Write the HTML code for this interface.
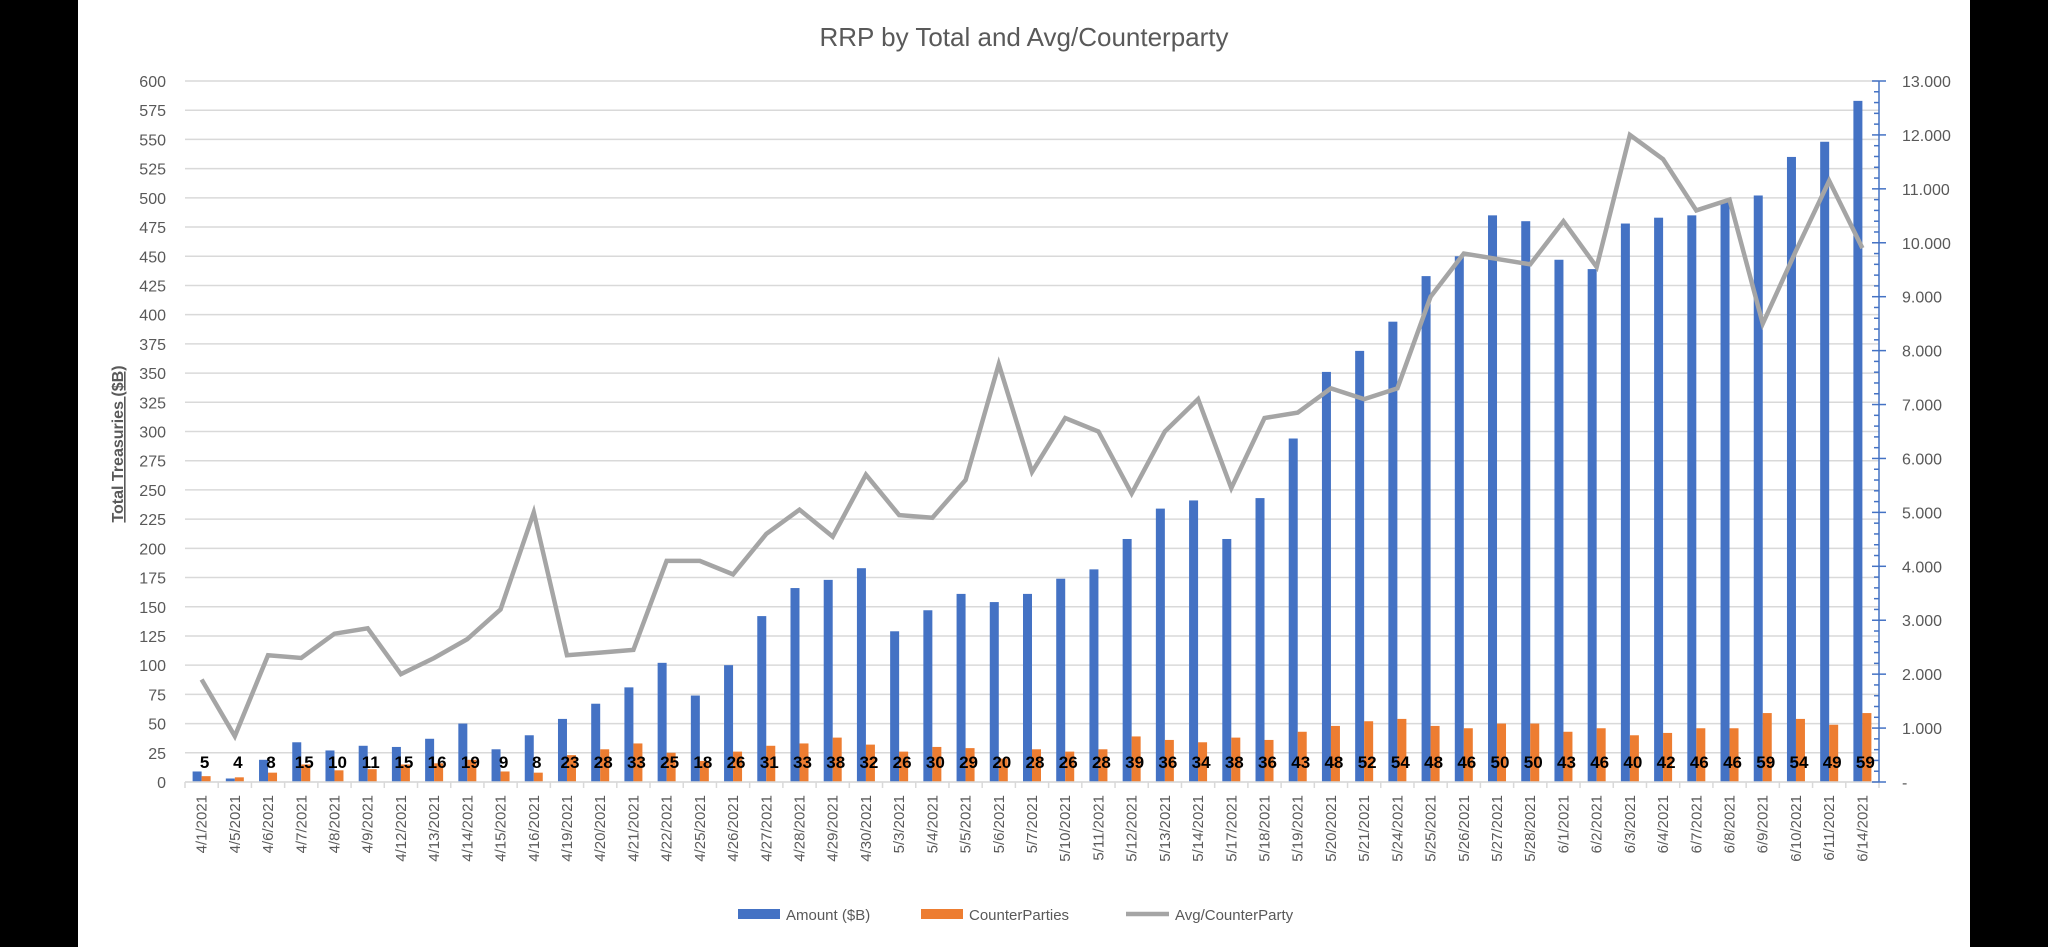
<!DOCTYPE html>
<html><head><meta charset="utf-8">
<style>
html,body{margin:0;padding:0;background:#000;}
#wrap{position:relative;width:2048px;height:947px;background:#000;overflow:hidden;}
svg{position:absolute;left:0;top:0;}
text{font-family:"Liberation Sans",sans-serif;}
</style></head>
<body>
<div id="wrap">
<svg id="chart" width="2048" height="947"></svg>
</div>
<script>
const categories = ["4/1/2021","4/5/2021","4/6/2021","4/7/2021","4/8/2021","4/9/2021","4/12/2021","4/13/2021","4/14/2021","4/15/2021","4/16/2021","4/19/2021","4/20/2021","4/21/2021","4/22/2021","4/25/2021","4/26/2021","4/27/2021","4/28/2021","4/29/2021","4/30/2021","5/3/2021","5/4/2021","5/5/2021","5/6/2021","5/7/2021","5/10/2021","5/11/2021","5/12/2021","5/13/2021","5/14/2021","5/17/2021","5/18/2021","5/19/2021","5/20/2021","5/21/2021","5/24/2021","5/25/2021","5/26/2021","5/27/2021","5/28/2021","6/1/2021","6/2/2021","6/3/2021","6/4/2021","6/7/2021","6/8/2021","6/9/2021","6/10/2021","6/11/2021","6/14/2021"];
const amounts = [9,3,19,34,27,31,30,37,50,28,40,54,67,81,102,74,100,142,166,173,183,129,147,161,154,161,174,182,208,234,241,208,243,294,351,369,394,433,450,485,480,447,439,478,483,485,497,502,535,548,583];
const counterparties = [5,4,8,15,10,11,15,16,19,9,8,23,28,33,25,18,26,31,33,38,32,26,30,29,20,28,26,28,39,36,34,38,36,43,48,52,54,48,46,50,50,43,46,40,42,46,46,59,54,49,59];
const avgPerCounterparty = [1.9,0.85,2.35,2.3,2.75,2.85,2.0,2.3,2.65,3.2,5.0,2.35,2.4,2.45,4.1,4.1,3.85,4.6,5.05,4.55,5.7,4.95,4.9,5.6,7.75,5.75,6.75,6.5,5.35,6.5,7.1,5.45,6.75,6.85,7.3,7.1,7.3,9.0,9.8,9.7,9.6,10.4,9.55,12.0,11.55,10.6,10.8,8.5,9.85,11.15,9.9];
const leftTicks = [0,25,50,75,100,125,150,175,200,225,250,275,300,325,350,375,400,425,450,475,500,525,550,575,600];
const rightTicks = [0,1,2,3,4,5,6,7,8,9,10,11,12,13];
const rightTickLabels = ["-","1.000","2.000","3.000","4.000","5.000","6.000","7.000","8.000","9.000","10.000","11.000","12.000","13.000"];

const NS="http://www.w3.org/2000/svg";
const svg=document.getElementById('chart');
const L=185,R=1879,T=81,B=782;
const bw=(R-L)/categories.length;
function yL(v){return B-(v/600)*(B-T);}
function yR(v){return B-(v/13)*(B-T);}
function xC(i){return L+bw*(i+0.5);}
function mk(tag,attrs,parent){const e=document.createElementNS(NS,tag);for(const k in attrs)e.setAttribute(k,attrs[k]);(parent||svg).appendChild(e);return e;}

// white background
const bg=mk('rect',{x:78,y:0,width:1892,height:947,fill:'#ffffff'});



// title
const title=mk('text',{x:1024,y:46,'text-anchor':'middle','font-size':26,fill:'#595959'});
title.textContent='RRP by Total and Avg/Counterparty';



// gridlines & left ticks
leftTicks.forEach(v=>{
  const g=mk('line',{x1:L,x2:R,y1:yL(v),y2:yL(v),stroke:'#d9d9d9','stroke-width':1.5});
  
  
  const t=mk('text',{x:166,y:yL(v)+6,'text-anchor':'end','font-size':16,fill:'#595959'});
  t.textContent=String(v);
  
  
});

// left axis title
const yt=mk('text',{x:0,y:0,transform:'translate(123,444) rotate(-90)','text-anchor':'middle','font-size':16,'font-weight':'bold',fill:'#595959','text-decoration':'underline'});
yt.textContent='Total Treasuries  ($B)';



// bars
categories.forEach((c,i)=>{
  const cx=xC(i);
  const b=mk('rect',{x:cx-9,y:yL(amounts[i]),width:9,height:B-yL(amounts[i]),fill:'#4472c4'});
  
  
  const o=mk('rect',{x:cx,y:yL(counterparties[i]),width:9,height:B-yL(counterparties[i]),fill:'#ed7d31'});
  
  
});

// bottom axis
const ax=mk('line',{x1:L,x2:R,y1:B,y2:B,stroke:'#d9d9d9','stroke-width':1.5});


for(let i=0;i<=categories.length;i++){
  const tk=mk('line',{x1:L+bw*i,x2:L+bw*i,y1:B,y2:B+6,stroke:'#d9d9d9','stroke-width':1.5});
  
  
}
categories.forEach((c,i)=>{
  const t=mk('text',{x:0,y:0,transform:`translate(${xC(i)+5},795) rotate(-90)`,'text-anchor':'end','font-size':15,fill:'#595959'});
  t.textContent=c;
  
  
});

// line
const pts=avgPerCounterparty.map((v,i)=>xC(i)+','+yR(v)).join(' ');
const pl=mk('polyline',{points:pts,fill:'none',stroke:'#a5a5a5','stroke-width':4.5,'stroke-linejoin':'miter'});



// data labels
counterparties.forEach((v,i)=>{
  const t=mk('text',{x:xC(i)+3,y:768,'text-anchor':'middle','font-size':17,'font-weight':'bold',fill:'#000'});
  t.textContent=String(v);
  
  
});

// right axis
const ra=mk('line',{x1:R,x2:R,y1:T,y2:B,stroke:'#4472c4','stroke-width':1.5});


for(let k=0;k<=65;k++){
  const v=k*0.2;const major=(k%5===0);
  const tk=mk('line',{x1:major?R-7:R-5,x2:major?R+7:R,y1:yR(v),y2:yR(v),stroke:'#4472c4','stroke-width':1.5});
  
  
}
rightTicks.forEach((v,i)=>{
  const t=mk('text',{x:1902,y:yR(v)+6,'text-anchor':'start','font-size':16,fill:'#595959'});
  t.textContent=rightTickLabels[i];
  
  
});

// legend
const lg=mk('g',{});


const s1=mk('rect',{x:738,y:909,width:42,height:10,fill:'#4472c4'},lg);


const t1=mk('text',{x:786,y:920,'font-size':15,fill:'#595959'},lg);
t1.textContent='Amount ($B)';


const s2=mk('rect',{x:921,y:909,width:42,height:10,fill:'#ed7d31'},lg);


const t2=mk('text',{x:969,y:920,'font-size':15,fill:'#595959'},lg);
t2.textContent='CounterParties';


const s3=mk('line',{x1:1126,x2:1169,y1:914,y2:914,stroke:'#a5a5a5','stroke-width':4.5},lg);


const t3=mk('text',{x:1175,y:920,'font-size':15,fill:'#595959'},lg);
t3.textContent='Avg/CounterParty';


</script>
</body></html>
